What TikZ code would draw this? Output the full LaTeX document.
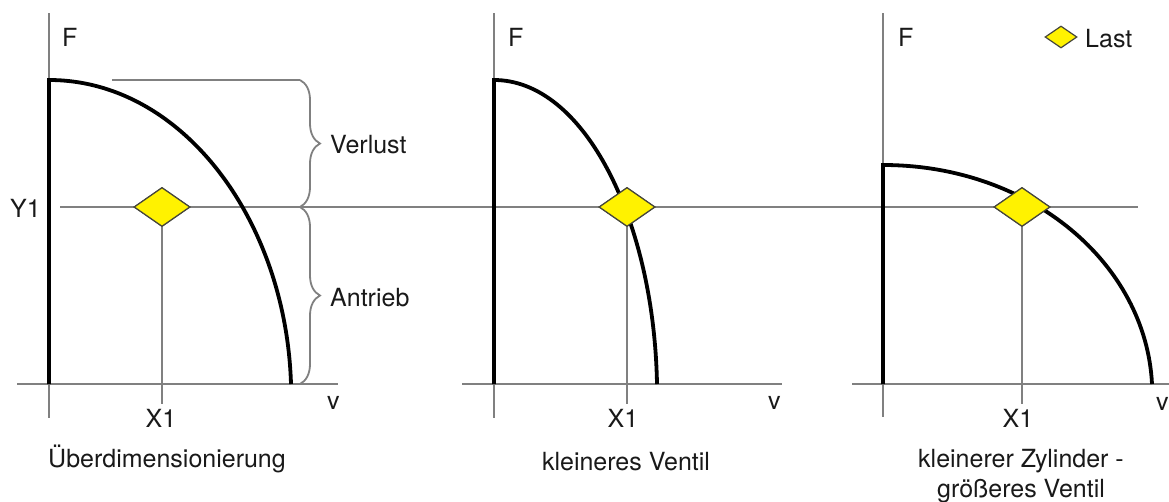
\documentclass[tikz,border=0pt]{standalone}
\usepackage{fontspec}
\setmainfont{TeX Gyre Heros}
\usetikzlibrary{shapes.geometric,decorations.pathreplacing}
\definecolor{axisgray}{RGB}{128,128,128}
\definecolor{lastyellow}{RGB}{255,242,0}
\definecolor{lastedge}{RGB}{70,70,60}
\definecolor{txt}{RGB}{25,25,25}
\tikzset{
  axisline/.style={draw=axisgray, line width=1.8pt},
  curveline/.style={draw=black, line width=3.8pt, line join=miter},
  lastmark/.style={diamond, draw=lastedge, fill=lastyellow, line width=1.2pt, inner sep=0pt},
  lbl/.style={inner sep=0pt, text=txt, font=\fontsize{25}{30}\selectfont},
  bracestyle/.style={draw=axisgray, line width=1.8pt, decorate, decoration={brace, amplitude=20pt}}
}
\begin{document}
\begin{tikzpicture}[x=1pt, y=-1pt]
\useasboundingbox (0,0) rectangle (1169,501);
% ---------- coordinates ----------
% panel 1
\coordinate (a1t) at (49,13);   \coordinate (a1b) at (49,418);
\coordinate (h1l) at (17,384);  \coordinate (h1r) at (338,384);
\coordinate (c1b) at (49,384);  \coordinate (c1t) at (49,80);  \coordinate (c1e) at (291,384);
\coordinate (x1e) at (162,404);
% panel 2
\coordinate (a2t) at (494,13);  \coordinate (a2b) at (494,418);
\coordinate (h2l) at (462,384); \coordinate (h2r) at (782,384);
\coordinate (c2b) at (494,384); \coordinate (c2t) at (494,80); \coordinate (c2e) at (657,384);
\coordinate (x2e) at (627,404);
% panel 3
\coordinate (a3t) at (883,13);  \coordinate (a3b) at (883,417);
\coordinate (h3l) at (852,384); \coordinate (h3r) at (1169,384);
\coordinate (c3b) at (883,384); \coordinate (c3t) at (883,165); \coordinate (c3e) at (1152,384);
\coordinate (x3e) at (1022,404);
% Y1 line
\coordinate (y1l) at (60,207);  \coordinate (y1r) at (1138,207);
% braces
\coordinate (bl) at (112,80);   \coordinate (btop) at (300,80);
\coordinate (bmid) at (300,207); \coordinate (bbot) at (300,384);

% ---------- gray axes ----------
\draw[axisline] (a1t) -- (a1b);
\draw[axisline] (h1l) -- (h1r);
\draw[axisline] (a2t) -- (a2b);
\draw[axisline] (h2l) -- (h2r);
\draw[axisline] (a3t) -- (a3b);
\draw[axisline] (h3l) -- (h3r);
\draw[axisline] (y1l) -- (y1r);

% ---------- load markers (anchors for the X1 lines) ----------
\node[lastmark, minimum width=56pt, minimum height=39pt] (d1) at (162,207) {};
\node[lastmark, minimum width=56pt, minimum height=39pt] (d2) at (627,207) {};
\node[lastmark, minimum width=56pt, minimum height=39pt] (d3) at (1022,207) {};

\draw[axisline] (d1.south) -- (x1e);
\draw[axisline] (d2.south) -- (x2e);
\draw[axisline] (d3.south) -- (x3e);

% ---------- braces ----------
\draw[axisline] (bl) -- (btop);
\draw[bracestyle] (btop) -- (bmid);
\draw[bracestyle] (bmid) -- (bbot);

% ---------- characteristic curves ----------
\draw[curveline] (c1b) -- (c1t) .. controls (182,80) and (286,220) .. (c1e);
\draw[curveline] (c2b) -- (c2t) .. controls (584,80) and (654,220) .. (c2e);
\draw[curveline] (c3b) -- (c3t) .. controls (1031,165) and (1146,264) .. (c3e);

% markers on top of curves
\node[lastmark, minimum width=56pt, minimum height=39pt] (d1top) at (d1) {};
\node[lastmark, minimum width=56pt, minimum height=39pt] (d2top) at (d2) {};
\node[lastmark, minimum width=56pt, minimum height=39pt] (d3top) at (d3) {};

% ---------- legend ----------
\node[lastmark, minimum width=32pt, minimum height=22pt] (leg) at (1061,37) {};
\node[lbl, anchor=base west] (legt) at (1085,47) {Last};

% ---------- labels ----------
\node[lbl, anchor=base west] (f1) at (62,46) {F};
\node[lbl, anchor=base west] (f2) at (508,46) {F};
\node[lbl, anchor=base west] (f3) at (898,46) {F};
\node[lbl, anchor=base west] (y1) at (10,217) {Y1};
\node[lbl, anchor=base] (xl1) at (161,427) {X1};
\node[lbl, anchor=base] (xl2) at (623,427) {X1};
\node[lbl, anchor=base] (xl3) at (1018,427) {X1};
\node[lbl, anchor=base west] (v1) at (327,409) {v};
\node[lbl, anchor=base west] (v2) at (768,409) {v};
\node[lbl, anchor=base west] (v3) at (1156,410) {v};
\node[lbl, anchor=base west] (verl) at (330,153) {Verlust};
\node[lbl, anchor=base west] (antr) at (330,306) {Antrieb};
\node[lbl, anchor=base] (t1) at (167,467) {Überdimensionierung};
\node[lbl, anchor=base] (t2) at (626,470) {kleineres Ventil};
\node[lbl, anchor=base] (t3a) at (1021,467) {kleinerer Zylinder -};
\node[lbl, anchor=base] (t3b) at (1021,497) {größeres Ventil};
\end{tikzpicture}
\end{document}
